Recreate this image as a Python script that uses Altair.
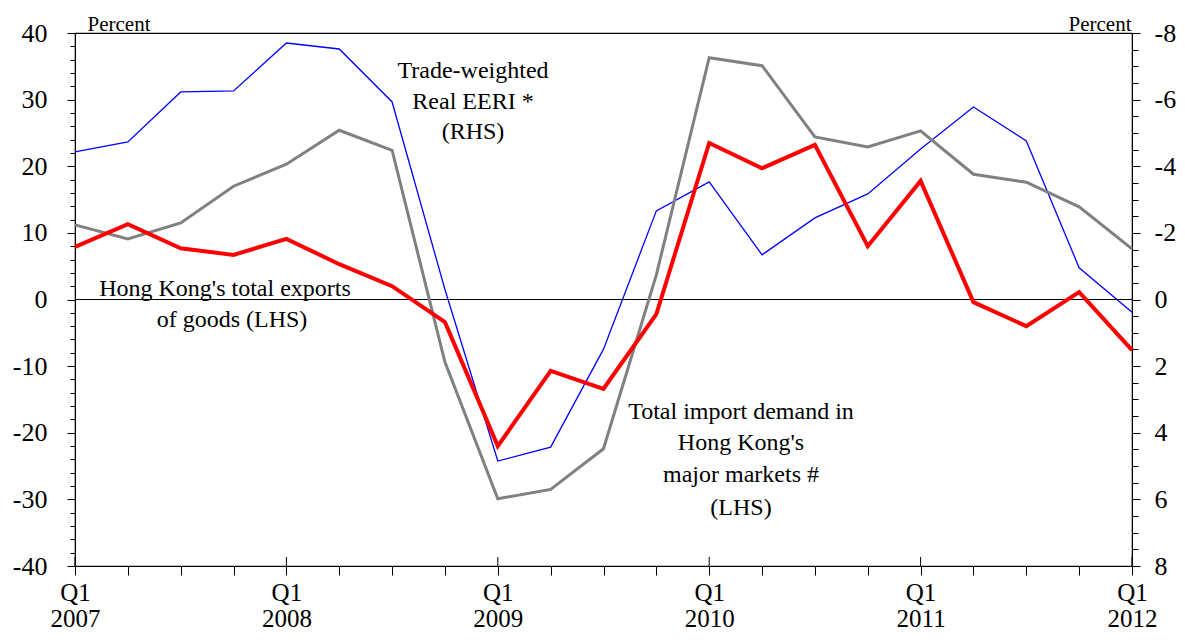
import altair as alt
import pandas as pd

quarters = [
    "Q1 2007", "Q2 2007", "Q3 2007", "Q4 2007",
    "Q1 2008", "Q2 2008", "Q3 2008", "Q4 2008",
    "Q1 2009", "Q2 2009", "Q3 2009", "Q4 2009",
    "Q1 2010", "Q2 2010", "Q3 2010", "Q4 2010",
    "Q1 2011", "Q2 2011", "Q3 2011", "Q4 2011",
    "Q1 2012",
]
exports = [7.9, 11.3, 7.7, 6.7, 9.1, 5.3, 2.0, -3.4, -22.0, -10.7, -13.4,
           -2.2, 23.5, 19.7, 23.2, 8.0, 17.8, -0.4, -4.0, 1.1, -7.6]
imports = [11.2, 9.1, 11.5, 17.0, 20.3, 25.4, 22.4, -9.4, -29.9, -28.5, -22.4,
           3.7, 36.3, 35.1, 24.4, 22.9, 25.3, 18.8, 17.6, 13.9, 7.6]
eeri = [-4.43, -4.73, -6.23, -6.26, -7.70, -7.52, -5.93, -0.3, 4.85, 4.43, 1.49,
        -2.66, -3.53, -1.34, -2.45, -3.17, -4.52, -5.78, -4.76, -0.95, 0.38]

left_ticks = list(range(-40, 41, 2))
right_ticks = [v / 2 for v in range(-16, 17)]

df = pd.DataFrame({"quarter": quarters, "exports": exports,
                   "imports": imports, "eeri": eeri})

FONT = "Liberation Serif"
W, H = 1057, 533

x_enc = alt.X(
    "quarter:O", sort=None,
    scale=alt.Scale(type="point", padding=0),
    axis=alt.Axis(
        title=None, labelAngle=0,
        labelExpr="indexof(datum.label, 'Q1') === 0 ? split(datum.label, ' ') : ''",
        tickSize=9, tickColor="black", domainColor="black",
        labelFont=FONT, labelFontSize=25, labelColor="black",
        labelPadding=5, labelLineHeight=26, labelOverlap=False,
        labelFlush=False, labelBound=False, grid=False,
    ),
)

left_axis = alt.Axis(
    title="Percent", titleAngle=0, titleAlign="left", titleBaseline="alphabetic",
    titleX=12, titleY=-3, titleFont=FONT, titleFontSize=21,
    titleFontWeight="normal", titleColor="black",
    values=left_ticks, orient="left",
    labelExpr="datum.value % 10 === 0 ? toString(datum.value) : ''",
    tickSize={"condition": {"test": "datum.value % 10 === 0", "value": 8}, "value": 5},
    tickColor="black", domainColor="black", grid=False,
    labelFont=FONT, labelFontSize=26, labelColor="black",
    labelPadding=20, labelOverlap=False, labelFlush=False, labelBound=False,
)
left_scale = alt.Scale(domain=[-40, 40], nice=False, zero=False)

right_axis = alt.Axis(
    title="Percent", titleAngle=0, titleAlign="right", titleBaseline="alphabetic",
    titleX=-1, titleY=-3, titleFont=FONT, titleFontSize=21,
    titleFontWeight="normal", titleColor="black",
    values=right_ticks, orient="right",
    labelExpr="datum.value % 2 === 0 ? toString(datum.value) : ''",
    tickSize={"condition": {"test": "datum.value % 2 === 0", "value": 8}, "value": 6},
    tickColor="black", domainColor="black", grid=False,
    labelFont=FONT, labelFontSize=26, labelColor="black",
    labelPadding=14, labelOverlap=False, labelFlush=False, labelBound=False,
)

base = alt.Chart(df)

blue = base.mark_line(color="#0000FF", strokeWidth=1.3).encode(
    x=x_enc,
    y=alt.Y("eeri:Q", scale=alt.Scale(domain=[-8, 8], reverse=True, nice=False, zero=False),
            axis=right_axis),
)

zero = base.mark_rule(color="black", strokeWidth=1).encode(
    y=alt.datum(0, scale=left_scale, axis=left_axis)
)
grey = base.mark_line(color="#808080", strokeWidth=3).encode(
    x=x_enc, y=alt.Y("imports:Q", scale=left_scale, axis=left_axis)
)
red = base.mark_line(color="#FF0000", strokeWidth=4).encode(
    x=x_enc, y=alt.Y("exports:Q", scale=left_scale, axis=left_axis)
)
q1_ticks = base.transform_filter("indexof(datum.quarter, 'Q1') === 0").mark_rule(
    color="black", strokeWidth=1
).encode(x=x_enc, y=alt.value(H), y2=alt.value(H - 9))

annotations = [
    ("Trade-weighted", 398, 38),
    ("Real EERI *", 398, 69),
    ("(RHS)", 398, 99),
    ("Hong Kong's total exports", 150, 256),
    ("of goods (LHS)", 157, 287),
    ("Total import demand in", 666, 379),
    ("Hong Kong's", 666, 410),
    ("major markets #", 666, 442),
    ("(LHS)", 666, 475),
]
texts = []
for label, tx, ty in annotations:
    texts.append(
        alt.Chart(pd.DataFrame({"label": [label]})).mark_text(
            font=FONT, fontSize=24, align="center", baseline="middle", color="black"
        ).encode(x=alt.value(tx), y=alt.value(ty), text="label:N")
    )

left_layer = alt.layer(zero, grey, red, q1_ticks, *texts)

chart = alt.layer(blue, left_layer).resolve_scale(y="independent").properties(
    width=W, height=H,
    autosize=alt.AutoSizeParams(type="none"),
    padding={"left": 67, "top": 25, "right": 45, "bottom": 69},
    background="white",
).configure_view(stroke="black", strokeWidth=1.2)

chart.save("out.html", embed_options={"renderer": "svg", "actions": False})
